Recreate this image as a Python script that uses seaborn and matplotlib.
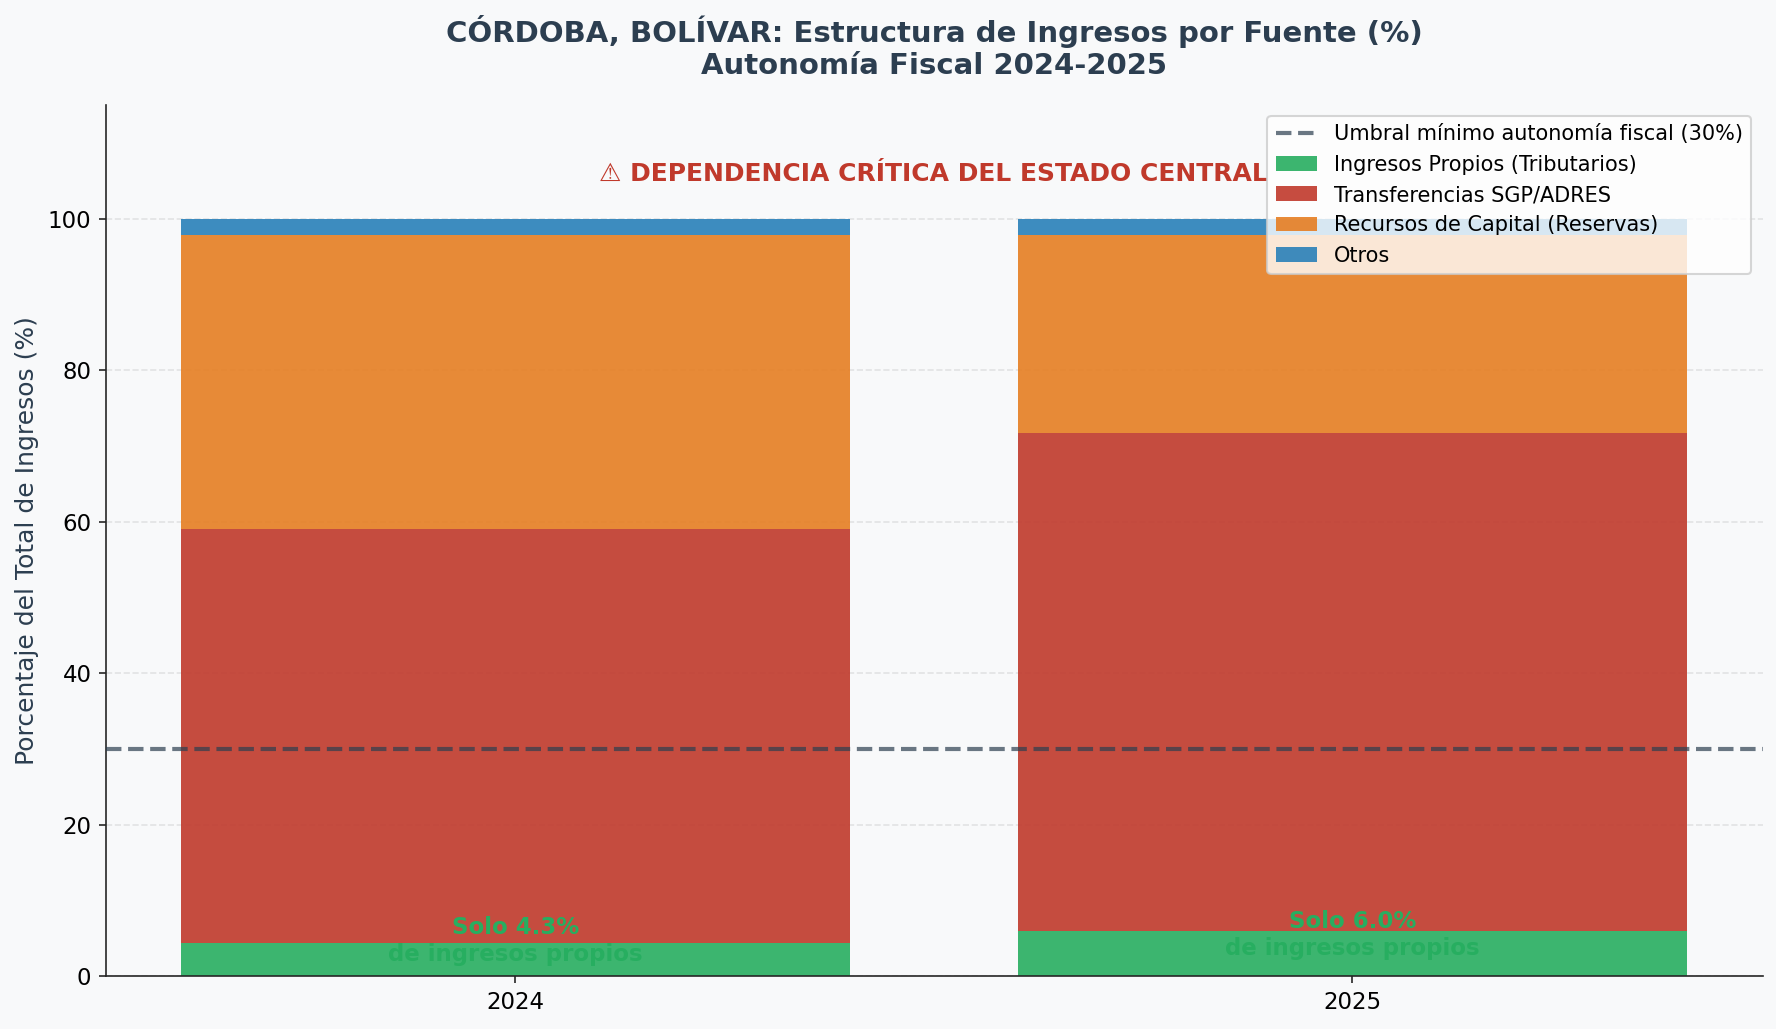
import matplotlib
matplotlib.use("Agg")
import matplotlib.pyplot as plt
import numpy as np
import seaborn as sns

years = ["2024", "2025"]
propios = [4.3, 6.0]
transferencias = [54.7, 65.7]
capital = [38.9, 26.2]
otros = [2.1, 2.1]

series_names = [
    "Ingresos Propios (Tributarios)",
    "Transferencias SGP/ADRES",
    "Recursos de Capital (Reservas)",
    "Otros",
]
series_colors = ["#27ae60", "#c0392b", "#e67e22", "#2980b9"]
threshold = 30
ink = "#2c3e50"
paper = "#f8f9fa"
axis_ink = "#262626"

fig = plt.figure(figsize=(1777 / 150, 1029 / 150), dpi=150, facecolor=paper)
ax = fig.add_axes([106 / 1777, 1 - 976 / 1029, (1763 - 106) / 1777, (976 - 105) / 1029])
ax.set_facecolor(paper)

# Stacked bars: each source sits on the running total of the previous ones
base = np.zeros(len(years))
for name, values, color in zip(series_names, [propios, transferencias, capital, otros], series_colors):
    sns.barplot(x=years, y=values, bottom=base, color=color, saturation=1, alpha=0.9,
                width=0.8, errorbar=None, label=name, ax=ax, zorder=2)
    base = base + np.array(values)

ax.axhline(threshold, color=ink, linestyle="--", linewidth=2, alpha=0.7,
           label="Umbral mínimo autonomía fiscal (30%)", zorder=3)

ax.set_xlim(-0.4892, 1.4908)
ax.set_ylim(0, 115)
ax.set_yticks([0, 20, 40, 60, 80, 100])
ax.set_ylabel("Porcentaje del Total de Ingresos (%)", fontsize=12, color=ink)
ax.set_xlabel("")
ax.tick_params(labelsize=11, color=axis_ink)
ax.yaxis.grid(True, linestyle="--", alpha=0.3)
ax.set_axisbelow(True)
sns.despine(ax=ax)
for side in ("left", "bottom"):
    ax.spines[side].set_color(axis_ink)

# Share of own revenue called out on each bar
for i, value in enumerate(propios):
    ax.text(i, value / 2 + 2.45, f"Solo {value:.1f}%\nde ingresos propios", ha="center", va="center",
            fontsize=11, fontweight="bold", color="#27ae60", zorder=4)

ax.text(0.5, 105.85, "⚠ DEPENDENCIA CRÍTICA DEL ESTADO CENTRAL", ha="center", va="center",
        fontsize=12, fontweight="bold", color="#c0392b", zorder=4)

fig.text(934 / 1777, 1 - 47.5 / 1029, "CÓRDOBA, BOLÍVAR: Estructura de Ingresos por Fuente (%)\nAutonomía Fiscal 2024-2025",
         ha="center", va="center", fontsize=14, fontweight="bold", color=ink)

ax.legend(loc="upper right", fontsize=10, bbox_to_anchor=(0.9993, 0.9995))

fig.savefig("out.png", dpi=150, facecolor=paper)
